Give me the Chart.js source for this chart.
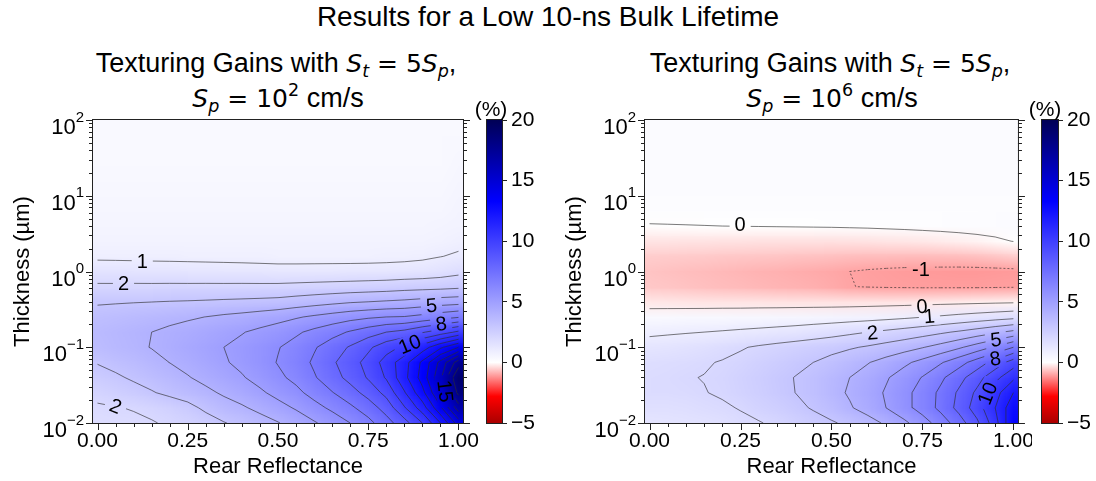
<!DOCTYPE html>
<html>
<head>
<meta charset="utf-8">
<script src="https://cdn.jsdelivr.net/npm/chart.js@4.4.1/dist/chart.umd.min.js"></script>
<style>
  body { margin: 0; background: #fff; }
  #page { position: relative; width: 1096px; height: 481px; overflow: hidden; font-family: "Liberation Sans", Arial, sans-serif; color: #000; }
  canvas { position: absolute; }
  .txt { position: absolute; white-space: nowrap; }
  .title { left: 0; width: 1096px; top: 1px; text-align: center; font-size: 28px; line-height: 32px; }
  .sub { width: 500px; text-align: center; font-size: 27px; line-height: 32px; }
  .m { font-family: "DejaVu Sans", sans-serif; font-size: 25px; }
  .m i { font-style: oblique; }
  .m sub, .m sup { font-size: 70%; line-height: 0; }
  .m sub { vertical-align: -0.3em; }
  .m sup { vertical-align: 0.65em; }
  .pct { font-size: 21px; line-height: 24px; width: 60px; text-align: center; }
</style>
</head>
<body>
<div id="page">
  <div class="txt title">Results for a Low 10-ns Bulk Lifetime</div>

  <div class="txt sub" style="left:26px;top:47px">Texturing Gains with <span class="m"><i>S</i><sub><i>t</i></sub> = 5<i>S</i><sub><i>p</i></sub></span>,</div>
  <div class="txt sub" style="left:28px;top:82px"><span class="m"><i>S</i><sub><i>p</i></sub> = 10<sup>2</sup></span> cm/s</div>
  <div class="txt sub" style="left:580px;top:47px">Texturing Gains with <span class="m"><i>S</i><sub><i>t</i></sub> = 5<i>S</i><sub><i>p</i></sub></span>,</div>
  <div class="txt sub" style="left:582px;top:82px"><span class="m"><i>S</i><sub><i>p</i></sub> = 10<sup>6</sup></span> cm/s</div>

  <canvas id="mapLow" width="480" height="381" style="left:0;top:100px"></canvas>
  <canvas id="barLow" width="90" height="381" style="left:470px;top:100px"></canvas>
  <canvas id="mapHigh" width="480" height="381" style="left:552px;top:100px"></canvas>
  <canvas id="barHigh" width="71" height="381" style="left:1025px;top:100px"></canvas>

  <div class="txt pct" style="left:461px;top:97px">(%)</div>
  <div class="txt pct" style="left:1015px;top:97px">(%)</div>
</div>

<script>
// rear reflectance (columns) and log10 of thickness in µm (rows, bottom to top)
const reflectance = [0, 0.05, 0.1, 0.15, 0.2, 0.25, 0.3, 0.35, 0.4, 0.45, 0.5, 0.55, 0.6, 0.65, 0.7, 0.75, 0.8, 0.85, 0.9, 0.95, 1.0];
const thicknessExp = [-2, -1.8, -1.6, -1.4, -1.2, -1, -0.8, -0.6, -0.4, -0.2, 0, 0.2, 0.4, 0.6, 0.8, 1, 1.2, 1.4, 1.6, 1.8, 2];

// texturing gain (%) for Sp = 1e2 cm/s
const gainLowSp = [
  [1.70, 1.76, 1.84, 1.95, 2.10, 2.30, 2.55, 2.95, 3.25, 3.60, 3.95, 4.40, 4.90, 5.40, 6.00, 6.70, 7.60, 8.60, 10.0, 12.0, 14.5],
  [1.90, 1.96, 2.05, 2.18, 2.40, 2.70, 3.20, 3.60, 3.88, 4.24, 4.65, 5.10, 5.65, 6.20, 6.80, 7.50, 8.40, 9.90, 11.5, 13.8, 16.5],
  [2.22, 2.44, 2.68, 2.93, 3.21, 3.48, 3.79, 4.13, 4.44, 4.84, 5.30, 5.75, 6.35, 6.95, 7.60, 8.35, 9.30, 10.9, 12.7, 15.1, 18.3],
  [2.65, 2.87, 3.12, 3.37, 3.66, 3.94, 4.26, 4.60, 4.92, 5.33, 5.80, 6.25, 6.90, 7.60, 8.30, 9.10, 10.1, 11.7, 13.4, 15.8, 19.0],
  [3.05, 3.26, 3.50, 3.74, 4.01, 4.28, 4.58, 4.91, 5.21, 5.60, 6.05, 6.50, 7.15, 7.85, 8.55, 9.35, 10.4, 11.6, 13.2, 15.3, 17.5],
  [3.45, 3.63, 3.83, 4.03, 4.25, 4.48, 4.73, 5.00, 5.25, 5.58, 5.95, 6.35, 6.90, 7.50, 8.10, 8.80, 9.60, 10.2, 11.5, 12.8, 14.0],
  [3.55, 3.69, 3.84, 4.00, 4.17, 4.35, 4.54, 4.76, 4.95, 5.21, 5.50, 5.85, 6.25, 6.65, 7.10, 7.55, 8.00, 8.30, 8.90, 9.50, 10.2],
  [3.35, 3.44, 3.55, 3.65, 3.77, 3.88, 4.01, 4.16, 4.29, 4.46, 4.65, 4.90, 5.15, 5.40, 5.65, 5.85, 6.00, 6.05, 6.30, 6.60, 6.90],
  [2.90, 2.93, 2.96, 2.99, 3.03, 3.06, 3.10, 3.15, 3.19, 3.24, 3.30, 3.45, 3.60, 3.75, 3.90, 4.00, 4.10, 4.20, 4.35, 4.50, 4.60],
  [2.15, 2.15, 2.16, 2.16, 2.17, 2.17, 2.18, 2.18, 2.19, 2.19, 2.20, 2.25, 2.30, 2.35, 2.40, 2.45, 2.50, 2.60, 2.65, 2.70, 2.80],
  [1.45, 1.44, 1.42, 1.40, 1.39, 1.37, 1.35, 1.33, 1.31, 1.28, 1.25, 1.25, 1.26, 1.27, 1.28, 1.30, 1.32, 1.36, 1.42, 1.55, 1.75],
  [0.85, 0.84, 0.83, 0.82, 0.81, 0.80, 0.79, 0.78, 0.77, 0.76, 0.75, 0.75, 0.75, 0.75, 0.75, 0.75, 0.77, 0.80, 0.86, 0.98, 1.10],
  [0.62, 0.62, 0.62, 0.62, 0.62, 0.61, 0.61, 0.61, 0.61, 0.61, 0.60, 0.60, 0.60, 0.60, 0.60, 0.60, 0.60, 0.60, 0.63, 0.70, 0.80],
  [0.50, 0.50, 0.50, 0.50, 0.50, 0.50, 0.50, 0.50, 0.50, 0.50, 0.50, 0.50, 0.50, 0.50, 0.50, 0.50, 0.50, 0.50, 0.52, 0.56, 0.65],
  [0.45, 0.45, 0.45, 0.45, 0.45, 0.45, 0.45, 0.45, 0.45, 0.45, 0.45, 0.45, 0.45, 0.45, 0.45, 0.45, 0.45, 0.45, 0.45, 0.48, 0.55],
  [0.40, 0.40, 0.40, 0.40, 0.40, 0.40, 0.40, 0.40, 0.40, 0.40, 0.40, 0.40, 0.40, 0.40, 0.40, 0.40, 0.40, 0.40, 0.40, 0.40, 0.50],
  [0.35, 0.35, 0.35, 0.35, 0.35, 0.35, 0.35, 0.35, 0.35, 0.35, 0.35, 0.35, 0.35, 0.35, 0.35, 0.35, 0.35, 0.35, 0.35, 0.35, 0.45],
  [0.33, 0.33, 0.33, 0.33, 0.33, 0.33, 0.33, 0.33, 0.33, 0.33, 0.33, 0.33, 0.33, 0.33, 0.33, 0.33, 0.33, 0.33, 0.33, 0.33, 0.40],
  [0.32, 0.32, 0.32, 0.32, 0.32, 0.32, 0.32, 0.32, 0.32, 0.32, 0.32, 0.32, 0.32, 0.32, 0.32, 0.32, 0.32, 0.32, 0.32, 0.32, 0.35],
  [0.30, 0.30, 0.30, 0.30, 0.30, 0.30, 0.30, 0.30, 0.30, 0.30, 0.30, 0.30, 0.30, 0.30, 0.30, 0.30, 0.30, 0.30, 0.30, 0.30, 0.30],
  [0.30, 0.30, 0.30, 0.30, 0.30, 0.30, 0.30, 0.30, 0.30, 0.30, 0.30, 0.30, 0.30, 0.30, 0.30, 0.30, 0.30, 0.30, 0.30, 0.30, 0.30]
];

// texturing gain (%) for Sp = 1e6 cm/s
const gainHighSp = [
  [1.35, 1.40, 1.45, 1.52, 1.63, 1.80, 1.95, 2.15, 2.40, 2.65, 2.90, 3.20, 3.60, 4.15, 4.80, 5.55, 6.45, 7.50, 8.80, 10.6, 13.0],
  [1.60, 1.64, 1.69, 1.76, 1.88, 2.05, 2.27, 2.52, 2.78, 3.08, 3.45, 3.90, 4.40, 5.00, 5.65, 6.40, 7.25, 8.30, 9.50, 11.0, 12.7],
  [1.80, 1.85, 1.90, 1.97, 2.10, 2.28, 2.50, 2.75, 3.00, 3.30, 3.70, 4.10, 4.55, 5.10, 5.70, 6.40, 7.20, 8.15, 9.20, 10.6, 12.0],
  [1.85, 1.90, 1.96, 2.02, 2.15, 2.33, 2.55, 2.80, 3.02, 3.30, 3.65, 4.00, 4.40, 4.90, 5.45, 6.05, 6.80, 7.65, 8.60, 9.70, 10.8],
  [1.70, 1.76, 1.84, 1.93, 2.05, 2.20, 2.40, 2.60, 2.80, 3.00, 3.30, 3.60, 3.95, 4.35, 4.80, 5.30, 5.90, 6.60, 7.45, 8.40, 9.50],
  [1.35, 1.42, 1.50, 1.60, 1.75, 1.93, 2.10, 2.25, 2.40, 2.55, 2.70, 2.90, 3.10, 3.35, 3.62, 3.95, 4.35, 4.85, 5.45, 6.15, 7.00],
  [0.85, 0.90, 0.95, 1.00, 1.06, 1.13, 1.20, 1.28, 1.37, 1.50, 1.65, 1.82, 2.00, 2.18, 2.38, 2.60, 2.85, 3.12, 3.45, 3.83, 4.25],
  [0.30, 0.32, 0.34, 0.36, 0.38, 0.40, 0.43, 0.46, 0.49, 0.52, 0.55, 0.60, 0.66, 0.74, 0.84, 0.97, 1.10, 1.25, 1.40, 1.55, 1.70],
  [-0.25, -0.26, -0.27, -0.28, -0.28, -0.29, -0.29, -0.30, -0.30, -0.30, -0.30, -0.30, -0.29, -0.28, -0.27, -0.25, -0.23, -0.21, -0.18, -0.15, -0.12],
  [-0.60, -0.63, -0.66, -0.69, -0.72, -0.75, -0.78, -0.81, -0.84, -0.87, -0.92, -0.99, -1.02, -1.04, -1.05, -1.06, -1.06, -1.06, -1.06, -1.05, -1.04],
  [-0.65, -0.68, -0.71, -0.74, -0.77, -0.80, -0.83, -0.86, -0.89, -0.92, -0.95, -1.00, -1.04, -1.07, -1.09, -1.10, -1.11, -1.12, -1.12, -1.11, -1.10],
  [-0.55, -0.56, -0.57, -0.58, -0.60, -0.61, -0.63, -0.64, -0.66, -0.67, -0.69, -0.71, -0.72, -0.73, -0.74, -0.74, -0.73, -0.71, -0.68, -0.63, -0.55],
  [-0.30, -0.30, -0.31, -0.31, -0.32, -0.32, -0.33, -0.33, -0.33, -0.33, -0.33, -0.32, -0.31, -0.29, -0.27, -0.25, -0.22, -0.18, -0.13, -0.07, 0.01],
  [-0.02, -0.015, -0.01, -0.005, 0.0, 0.005, 0.01, 0.015, 0.02, 0.025, 0.03, 0.04, 0.05, 0.065, 0.08, 0.10, 0.12, 0.14, 0.16, 0.18, 0.20],
  [0.11, 0.11, 0.11, 0.11, 0.11, 0.11, 0.11, 0.11, 0.11, 0.11, 0.11, 0.11, 0.11, 0.11, 0.11, 0.11, 0.11, 0.12, 0.13, 0.14, 0.15],
  [0.18, 0.18, 0.18, 0.18, 0.18, 0.18, 0.18, 0.18, 0.18, 0.18, 0.18, 0.18, 0.18, 0.18, 0.18, 0.18, 0.18, 0.18, 0.18, 0.18, 0.18],
  [0.22, 0.22, 0.22, 0.22, 0.22, 0.22, 0.22, 0.22, 0.22, 0.22, 0.22, 0.22, 0.22, 0.22, 0.22, 0.22, 0.22, 0.22, 0.22, 0.22, 0.22],
  [0.22, 0.22, 0.22, 0.22, 0.22, 0.22, 0.22, 0.22, 0.22, 0.22, 0.22, 0.22, 0.22, 0.22, 0.22, 0.22, 0.22, 0.22, 0.22, 0.22, 0.22],
  [0.22, 0.22, 0.22, 0.22, 0.22, 0.22, 0.22, 0.22, 0.22, 0.22, 0.22, 0.22, 0.22, 0.22, 0.22, 0.22, 0.22, 0.22, 0.22, 0.22, 0.22],
  [0.22, 0.22, 0.22, 0.22, 0.22, 0.22, 0.22, 0.22, 0.22, 0.22, 0.22, 0.22, 0.22, 0.22, 0.22, 0.22, 0.22, 0.22, 0.22, 0.22, 0.22],
  [0.22, 0.22, 0.22, 0.22, 0.22, 0.22, 0.22, 0.22, 0.22, 0.22, 0.22, 0.22, 0.22, 0.22, 0.22, 0.22, 0.22, 0.22, 0.22, 0.22, 0.22]
];

const contourLevels = [-1, 0, 1, 2, 3, 4, 5, 6, 7, 8, 9, 10, 11, 12, 13, 14, 15, 16, 17, 18, 19, 20];
const reflectanceTicks = [0, 0.25, 0.5, 0.75, 1];
const thicknessTicks = [0.01, 0.1, 1, 10, 100];
const colorbarTicks = [-5, 0, 5, 10, 15, 20];

// inline contour labels: level, spot in (reflectance, log10 thickness), text angle
const labelsLowSp = [
  { level: 1, x: 0.124, exp: 0.13, rot: 0 },
  { level: 2, x: 0.072, exp: -0.16, rot: 0 },
  { level: 2, x: 0.05, exp: -1.78, rot: 0.38 },
  { level: 5, x: 0.925, exp: -0.45, rot: -0.08 },
  { level: 8, x: 0.952, exp: -0.69, rot: -0.12 },
  { level: 10, x: 0.865, exp: -0.96, rot: -0.38 },
  { level: 15, x: 0.963, exp: -1.58, rot: 1.45 }
];
const labelsHighSp = [
  { level: 0, x: 0.249, exp: 0.62, rot: 0 },
  { level: -1, x: 0.746, exp: 0.03, rot: 0 },
  { level: 0, x: 0.749, exp: -0.46, rot: -0.05 },
  { level: 1, x: 0.769, exp: -0.59, rot: -0.08 },
  { level: 2, x: 0.613, exp: -0.81, rot: -0.08 },
  { level: 5, x: 0.952, exp: -0.9, rot: -0.1 },
  { level: 8, x: 0.95, exp: -1.15, rot: -0.15 },
  { level: 10, x: 0.929, exp: -1.61, rot: -1.2 }
];

// diverging colour map, white at zero
const cmapStops = [-5, -2.8, 0, 13.3, 20];
const cmapColors = [[170, 0, 0], [255, 0, 0], [255, 255, 255], [0, 0, 255], [0, 0, 85]];

const FAMILY = '"Liberation Sans", Arial, sans-serif';
const INK = '#222';

function rgb(c) { return 'rgb(' + c.map(Math.round).join(',') + ')'; }

function cmapRGB(v) {
  if (v <= cmapStops[0]) return cmapColors[0];
  for (let k = 1; k < cmapStops.length; k++) {
    if (v <= cmapStops[k]) {
      const t = (v - cmapStops[k - 1]) / (cmapStops[k] - cmapStops[k - 1]);
      const a = cmapColors[k - 1], b = cmapColors[k];
      return [0, 1, 2].map(n => a[n] + (b[n] - a[n]) * t);
    }
  }
  return cmapColors[cmapColors.length - 1];
}

// marching squares over the grid, one segment per crossed cell, gaps between segments
function contourData(grid, level) {
  const out = [];
  for (let j = 0; j < thicknessExp.length - 1; j++) {
    for (let i = 0; i < reflectance.length - 1; i++) {
      const cx = [reflectance[i], reflectance[i + 1], reflectance[i + 1], reflectance[i]];
      const cy = [thicknessExp[j], thicknessExp[j], thicknessExp[j + 1], thicknessExp[j + 1]];
      const cv = [grid[j][i], grid[j][i + 1], grid[j + 1][i + 1], grid[j + 1][i]];
      const hit = [];
      for (let e = 0; e < 4; e++) {
        const n = (e + 1) % 4;
        if ((cv[e] < level) !== (cv[n] < level)) {
          const t = (level - cv[e]) / (cv[n] - cv[e]);
          hit[e] = { x: cx[e] + (cx[n] - cx[e]) * t, y: Math.pow(10, cy[e] + (cy[n] - cy[e]) * t) };
        }
      }
      const edges = [0, 1, 2, 3].filter(e => hit[e]);
      let pairs = [];
      if (edges.length === 2) pairs = [edges];
      else if (edges.length === 4) {
        const mid = (cv[0] + cv[1] + cv[2] + cv[3]) / 4;
        pairs = ((mid < level) === (cv[0] < level)) ? [[0, 1], [2, 3]] : [[3, 0], [1, 2]];
      }
      pairs.forEach(([a, b]) => out.push(hit[a], hit[b], { x: hit[b].x, y: null }));
    }
  }
  return out;
}

function labelBox(ctx, px, py, w, h, rot) {
  const c = Math.cos(rot), s = Math.sin(rot);
  [[-w / 2, -h / 2], [w / 2, -h / 2], [w / 2, h / 2], [-w / 2, h / 2]].forEach(([dx, dy], k) => {
    const X = px + dx * c - dy * s, Y = py + dx * s + dy * c;
    if (k === 0) ctx.moveTo(X, Y); else ctx.lineTo(X, Y);
  });
  ctx.closePath();
}

// one pixel per grid node, stretched over the axes with bilinear filtering
function gridImage(grid) {
  const nx = reflectance.length, ny = thicknessExp.length;
  const off = document.createElement('canvas');
  off.width = nx; off.height = ny;
  const octx = off.getContext('2d');
  const img = octx.createImageData(nx, ny);
  grid.forEach((row, j) => row.forEach((v, i) => {
    const c = cmapRGB(v);
    const k = ((ny - 1 - j) * nx + i) * 4;
    img.data[k] = Math.round(c[0]);
    img.data[k + 1] = Math.round(c[1]);
    img.data[k + 2] = Math.round(c[2]);
    img.data[k + 3] = 255;
  }));
  octx.putImageData(img, 0, 0);
  return off;
}

const heatmapPlugin = {
  id: 'heatmap',
  beforeDatasetsDraw(chart, args, opts) {
    const { ctx, chartArea: a } = chart;
    const xs = chart.scales.x, ys = chart.scales.y;
    const hx = (reflectance[1] - reflectance[0]) / 2;
    const hy = (thicknessExp[1] - thicknessExp[0]) / 2;
    const x0 = xs.getPixelForValue(reflectance[0] - hx);
    const x1 = xs.getPixelForValue(reflectance[reflectance.length - 1] + hx);
    const y0 = ys.getPixelForValue(Math.pow(10, thicknessExp[thicknessExp.length - 1] + hy));
    const y1 = ys.getPixelForValue(Math.pow(10, thicknessExp[0] - hy));
    ctx.save();
    ctx.beginPath();
    ctx.rect(a.left, a.top, a.width, a.height);
    ctx.clip();
    ctx.imageSmoothingEnabled = true;
    ctx.imageSmoothingQuality = 'low';
    ctx.drawImage(gridImage(opts.grid), x0, y0, x1 - x0, y1 - y0);
    ctx.restore();

    // cut the contour lines where the labels sit
    ctx.save();
    ctx.font = '20px ' + FAMILY;
    ctx.beginPath();
    ctx.rect(a.left, a.top, a.width, a.height);
    opts.labels.forEach(l => {
      const w = ctx.measureText(String(l.level)).width + 10;
      labelBox(ctx, xs.getPixelForValue(l.x), ys.getPixelForValue(Math.pow(10, l.exp)), w, 18, l.rot);
    });
    ctx.clip('evenodd');
  },
  afterDatasetsDraw(chart, args, opts) {
    const { ctx, chartArea: a } = chart;
    const xs = chart.scales.x, ys = chart.scales.y;
    ctx.restore();

    ctx.save();
    ctx.fillStyle = '#000';
    ctx.font = '20px ' + FAMILY;
    ctx.textAlign = 'center';
    ctx.textBaseline = 'middle';
    opts.labels.forEach(l => {
      ctx.save();
      ctx.translate(xs.getPixelForValue(l.x), ys.getPixelForValue(Math.pow(10, l.exp)));
      ctx.rotate(l.rot);
      ctx.fillText(String(l.level), 0, 1);
      ctx.restore();
    });

    // frame and tick marks
    ctx.strokeStyle = INK;
    ctx.lineWidth = 1;
    ctx.strokeRect(a.left - 0.5, a.top - 0.5, a.width + 1, a.height + 1);
    ctx.beginPath();
    for (let k = 0; k <= 20; k++) {
      const px = Math.round(xs.getPixelForValue(k / 20)) + 0.5;
      const len = k % 5 === 0 ? 7 : 4;
      ctx.moveTo(px, a.bottom); ctx.lineTo(px, a.bottom + len);
    }
    for (let e = -2; e <= 2; e++) {
      for (let m = 1; m <= (e === 2 ? 1 : 9); m++) {
        const py = Math.round(ys.getPixelForValue(m * Math.pow(10, e))) + 0.5;
        const len = m === 1 ? 7 : 4;
        ctx.moveTo(a.left, py); ctx.lineTo(a.left - len, py);
        ctx.moveTo(a.right, py); ctx.lineTo(a.right + len, py);
      }
    }
    ctx.stroke();

    // power-of-ten labels on the thickness axis
    ctx.textAlign = 'left';
    ctx.textBaseline = 'alphabetic';
    thicknessTicks.forEach(v => {
      const py = ys.getPixelForValue(v);
      const p = Math.round(Math.log10(v));
      const sup = p < 0 ? '\u2212' + (-p) : String(p);
      ctx.font = '22px ' + FAMILY;
      const wBase = ctx.measureText('10').width;
      ctx.font = '15px ' + FAMILY;
      const wSup = ctx.measureText(sup).width;
      const right = a.left - 9;
      ctx.font = '22px ' + FAMILY;
      ctx.fillText('10', right - wSup - wBase, py + 14);
      ctx.font = '15px ' + FAMILY;
      ctx.fillText(sup, right - wSup, py + 1.5);
    });
    ctx.restore();
  }
};

function makeMap(id, grid, labels) {
  const datasets = contourLevels.map(level => ({
    data: contourData(grid, level),
    showLine: true,
    spanGaps: false,
    pointRadius: 0,
    borderWidth: 0.8,
    borderColor: 'rgba(45,45,45,0.8)',
    borderDash: level < 0 ? [2, 2] : []
  })).filter(d => d.data.length);

  return new Chart(document.getElementById(id), {
    type: 'scatter',
    data: { datasets },
    options: {
      responsive: false,
      animation: false,
      devicePixelRatio: 1,
      events: [],
      layout: { padding: { top: 20, right: id === 'mapLow' ? 17 : 13, left: 0, bottom: 0 } },
      plugins: { legend: { display: false }, tooltip: { enabled: false }, heatmap: { grid, labels } },
      scales: {
        x: {
          type: 'linear', min: -0.0125, max: 1.0125,
          afterBuildTicks: s => { s.ticks = reflectanceTicks.map(v => ({ value: v })); },
          afterFit: s => { s.height = 58; },
          ticks: { autoSkip: false, maxRotation: 0, padding: -2, color: '#000', font: { family: FAMILY, size: 21 }, callback: v => Number(v).toFixed(2) },
          grid: { display: false },
          border: { display: false },
          title: { display: true, text: 'Rear Reflectance', color: '#000', font: { family: FAMILY, size: 22 }, padding: { top: 0, bottom: 1 } }
        },
        y: {
          type: 'logarithmic', min: 0.01, max: 100,
          afterBuildTicks: s => { s.ticks = thicknessTicks.map(v => ({ value: v })); },
          afterFit: s => { s.width = 93; },
          ticks: { display: false },
          grid: { display: false },
          border: { display: false },
          title: { display: true, text: 'Thickness (µm)', color: '#000', font: { family: FAMILY, size: 22 }, padding: { top: 10, bottom: 0 } }
        }
      }
    },
    plugins: [heatmapPlugin]
  });
}

function colorbarFill(chart) {
  if (!chart.chartArea) return '#fff';
  const y = chart.scales.y;
  const lo = colorbarTicks[0], hi = colorbarTicks[colorbarTicks.length - 1];
  const g = chart.ctx.createLinearGradient(0, y.getPixelForValue(lo), 0, y.getPixelForValue(hi));
  cmapStops.forEach((s, k) => g.addColorStop((s - lo) / (hi - lo), rgb(cmapColors[k])));
  return g;
}

const cbFrame = {
  id: 'cbFrame',
  afterDraw(chart) {
    const { ctx, chartArea: a } = chart;
    ctx.save();
    ctx.strokeStyle = INK;
    ctx.lineWidth = 1;
    ctx.strokeRect(a.left - 0.5, a.top - 0.5, a.width + 1, a.height + 1);
    ctx.restore();
  }
};

function makeColorbar(id, axisWidth) {
  const lo = colorbarTicks[0], hi = colorbarTicks[colorbarTicks.length - 1];
  return new Chart(document.getElementById(id), {
    type: 'bar',
    data: {
      labels: [''],
      datasets: [{ data: [[lo, hi]], backgroundColor: ctx => colorbarFill(ctx.chart), borderWidth: 0, barPercentage: 1, categoryPercentage: 1 }]
    },
    options: {
      responsive: false,
      animation: false,
      devicePixelRatio: 1,
      events: [],
      layout: { padding: { left: 17, top: 20, bottom: 58, right: 0 } },
      plugins: { legend: { display: false }, tooltip: { enabled: false } },
      scales: {
        x: { display: false },
        y: {
          position: 'right', min: lo, max: hi,
          afterBuildTicks: s => { s.ticks = colorbarTicks.map(v => ({ value: v })); },
          afterFit: s => { s.width = axisWidth; },
          ticks: { padding: 4, color: '#000', font: { family: FAMILY, size: 21 }, callback: v => v < 0 ? '\u2212' + Math.abs(v) : String(v) },
          grid: { display: true, drawOnChartArea: false, drawTicks: true, tickLength: 5, tickColor: INK, color: INK },
          border: { display: false }
        }
      }
    },
    plugins: [cbFrame]
  });
}

makeMap('mapLow', gainLowSp, labelsLowSp);
makeMap('mapHigh', gainHighSp, labelsHighSp);
makeColorbar('barLow', 58);
makeColorbar('barHigh', 38);
</script>
</body>
</html>
